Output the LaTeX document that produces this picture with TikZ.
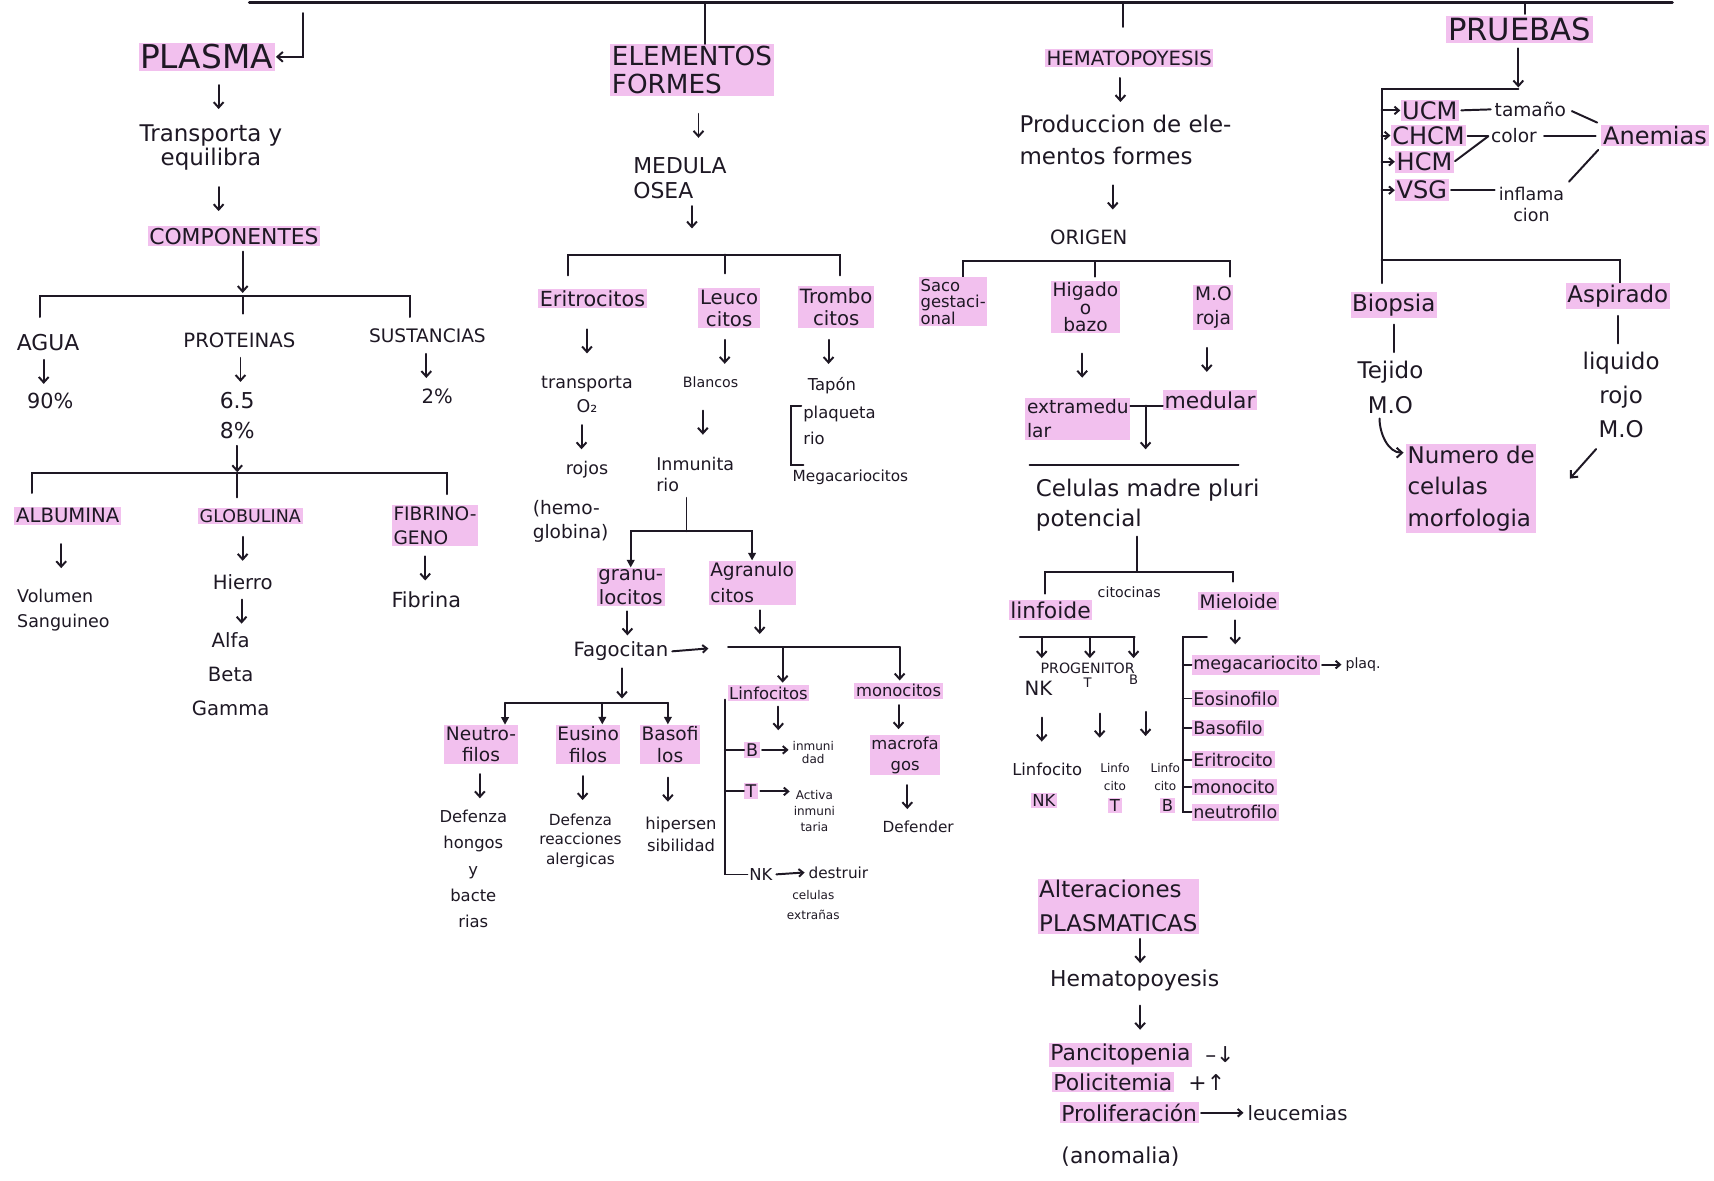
\documentclass[tikz,border=0pt]{standalone}
\usepackage{fontspec}
\setmainfont{DejaVu Sans}
\usetikzlibrary{arrows.meta,calc}
\definecolor{ink}{RGB}{30,24,36}
\definecolor{hlc}{RGB}{242,192,238}
\newcommand{\fsz}[2]{\fontsize{#1}{#2}\selectfont}
\tikzset{
 txt/.style={inner sep=1.5pt, text=ink, align=center},
 hl/.style={txt, fill=hlc},
 ln/.style={draw=ink, line width=1.8pt, line cap=round},
 arr/.style={ln, -{Straight Barb[length=5pt,width=9pt]}, shorten <=5pt, shorten >=5pt},
 smallarr/.style={ln, -{Straight Barb[length=4pt,width=7pt]}, shorten <=2pt, shorten >=2pt},
 farr/.style={ln, -{Triangle[length=7pt,width=7pt]}},
}
\newcommand{\varr}[3]{\coordinate (vtmp) at (#3,0);
 \coordinate (va) at (#1.south -| vtmp); \coordinate (vb) at (#2.north -| vtmp);
 \coordinate (vm) at ($(va)!0.5!(vb)$);
 \draw[arr, shorten <=0pt, shorten >=0pt] let \p1=(va), \p2=(vb), \n1={min(11pt,(\y1-\y2)/2-3pt)} in ([yshift=\n1]vm) -- ([yshift=-\n1]vm);}
\begin{document}
\begin{tikzpicture}[x=1pt,y=-1pt]
\fill[white] (0,0) rectangle (1568,1080);
\useasboundingbox (0,0) rectangle (1568,1080);

% ===== column 1 : PLASMA =====
\node[hl, font=\fsz{30}{32}] (plasma) at (189,52) {PLASMA};
\node[txt, font=\fsz{21}{22}] (trans) at (193,135) {Transporta y\\equilibra};
\node[hl, font=\fsz{20}{22}] (comp) at (214,216) {COMPONENTES};
\varr{plasma}{trans}{200}
\varr{trans}{comp}{200}
\coordinate (b1) at (222,271);
\draw[arr, shorten >=3pt] (comp.south -| b1) -- (b1);
\draw[ln] (37,290) -- (37,271) -- (375,271) -- (375,290);
\draw[ln] (b1) -- (222,287);
\node[txt, font=\fsz{20}{22}] (agua) at (44,313) {AGUA};
\node[txt, font=\fsz{18}{20}] (prot) at (219,311) {PROTEINAS};
\node[txt, font=\fsz{17}{20}] (sust) at (391,307) {SUSTANCIAS};
\node[txt, font=\fsz{19}{20}] (p90) at (46,367) {90\%};
\node[txt, font=\fsz{20}{27}] (p65) at (217,380) {6.5\\8\%};
\node[txt, font=\fsz{18}{20}] (p2) at (400,363) {2\%};
\varr{agua}{p90}{40}
\varr{prot}{p65}{220}
\varr{sust}{p2}{390}
\coordinate (b2) at (217,433);
\draw[arr, shorten >=1pt] (p65.south -| b2) -- (b2);
\draw[ln] (29,451) -- (29,433) -- (409,433) -- (409,452);
\draw[ln] (b2) -- (217,455);
\node[hl, font=\fsz{18}{20}] (alb) at (62,472) {ALBUMINA};
\node[hl, font=\fsz{16}{20}] (glob) at (229,472) {GLOBULINA};
\node[hl, font=\fsz{17}{22}, align=left] (fib) at (398,481) {FIBRINO-\\GENO};
\node[txt, font=\fsz{16}{23}, align=left] (vol) at (58,558) {Volumen\\Sanguineo};
\node[txt, font=\fsz{18}{20}] (hier) at (222,533) {Hierro};
\node[txt, font=\fsz{18}{31}] (abg) at (211,617) {Alfa\\Beta\\Gamma};
\node[txt, font=\fsz{19}{20}] (fibr) at (390,549) {Fibrina};
\varr{alb}{vol}{56}
\varr{glob}{hier}{222}
\varr{hier}{abg}{221}
\varr{fib}{fibr}{389}

% ===== top bar =====
\coordinate (tbL) at (228,2);
\coordinate (tbR) at (1530,2);
\draw[ln, line width=2.4pt] (tbL) -- (tbR);
\coordinate (s1) at (277,12);
\draw[arr, shorten <=0pt, shorten >=1pt] (s1) |- (plasma.east);

% ===== column 2 : ELEMENTOS FORMES =====
\node[hl, font=\fsz{24}{26}, align=left] (elem) at (633,64) {ELEMENTOS\\FORMES};
\coordinate (s2) at (645,2);
\draw[ln] (s2) -- (s2 |- elem.north);
\node[txt, font=\fsz{20}{23}, align=left] (med) at (622,163) {MEDULA\\OSEA};
\varr{elem}{med}{639}
\coordinate (m3) at (633,233);
\draw[arr, shorten >=24pt] (med.south -| m3) -- (m3);
\draw[ln] (520,252) -- (520,233) -- (768,233) -- (768,252);
\draw[ln] (663,233) -- (663,250);
\node[hl, font=\fsz{19}{20}] (eri) at (542,273) {Eritrocitos};
\node[hl, font=\fsz{18}{20}] (leu) at (667,282) {Leuco\\citos};
\node[hl, font=\fsz{18}{21}] (tro) at (765,281) {Trombo\\citos};
\node[txt, font=\fsz{16}{22}] (trO) at (537,361) {transporta\\O₂};
\node[txt, font=\fsz{16}{20}] (roj) at (537,430) {rojos};
\node[txt, font=\fsz{17}{22}, align=left] (hem) at (522,477) {(hemo-\\globina)};
\varr{eri}{trO}{537}
\varr{trO}{roj}{532}
\node[txt, font=\fsz{13}{15}] (bla) at (650,350) {Blancos};
\node[txt, font=\fsz{16}{19}, align=left] (inm) at (636,434) {Inmunita\\rio};
\varr{leu}{bla}{663}
\varr{bla}{inm}{643}
\node[hl, font=\fsz{18}{22}] (gra) at (577,537) {granu-\\locitos};
\node[hl, font=\fsz{17}{24}, align=left] (agr) at (688,533) {Agranulo\\citos};
\coordinate (sp1) at (628,486);
\draw[ln, shorten <=4pt] (inm.south -| sp1) -- (sp1);
\draw[farr] (sp1) -| (gra.north);
\draw[farr] (sp1) -| (agr.north);
\node[txt, font=\fsz{18}{20}] (fag) at (568,596) {Fagocitan};
\varr{gra}{fag}{574}
\coordinate (fagE) at (650,593);
\draw[smallarr] (fag.east) -- (fagE);
\coordinate (b4) at (695,592);
\draw[arr, shorten >=12pt] (agr.south -| b4) -- (b4);
\draw[ln] (666,592) -- (823,592);
\node[hl, font=\fsz{15}{18}] (linf) at (703,634) {Linfocitos};
\node[hl, font=\fsz{15}{18}] (mono) at (822,632) {monocitos};
\coordinate (b4a) at (716,592);
\coordinate (b4b) at (823,592);
\draw[arr, shorten <=0pt, shorten >=2pt] (b4a) -- (b4a |- linf.north);
\draw[arr, shorten <=0pt, shorten >=2pt] (b4b) -- (b4b |- mono.north);
\coordinate (b5) at (569,643);
\draw[arr, shorten >=4pt] (fag.south -| b5) -- (b5);
\node[hl, font=\fsz{17}{20}] (neu) at (440,681) {Neutro-\\filos};
\node[hl, font=\fsz{17}{20}] (eus) at (538,681) {Eusino\\filos};
\node[hl, font=\fsz{17}{20}] (bas) at (613,681) {Basofi\\los};
\coordinate (b5l) at (462,643);
\coordinate (b5m) at (551,643);
\coordinate (b5r) at (611,643);
\draw[ln] (b5l) -- (b5r);
\draw[farr] (b5l) -- (b5l |- neu.north);
\draw[farr] (b5m) -- (b5m |- eus.north);
\draw[farr] (b5r) -- (b5r |- bas.north);
\node[txt, font=\fsz{15}{24}] (def1) at (433,795) {Defenza\\hongos\\y\\bacte\\rias};
\node[txt, font=\fsz{14}{18}] (def2) at (531,769) {Defenza\\reacciones\\alergicas};
\node[txt, font=\fsz{15}{20}] (hip) at (623,763) {hipersen\\sibilidad};
\varr{neu}{def1}{439}
\varr{eus}{def2}{533}
\varr{bas}{hip}{611}
% linfocitos
\coordinate (lf) at (712,668);
\draw[arr, shorten >=0pt] (linf.south -| lf) -- (lf);
\node[hl, font=\fsz{16}{18}] (nb) at (688,686) {B};
\node[txt, font=\fsz{11}{12}] (inmd) at (744,688) {inmuni\\dad};
\node[hl, font=\fsz{16}{18}] (nt) at (687,724) {T};
\node[txt, font=\fsz{11}{15}] (act) at (745,742) {Activa\\inmuni\\taria};
\node[txt, font=\fsz{15}{18}] (nnk) at (696,800) {NK};
\node[txt, font=\fsz{14}{16}] (des) at (767,798) {destruir};
\node[txt, font=\fsz{11}{19}] (cel) at (744,828) {celulas\\extrañas};
\coordinate (lv1) at (663,640);
\coordinate (lv2) at (663,800);
\draw[ln] (lv1) -- (lv2) -- (nnk.west);
\draw[ln] (nb.west -| lv1) -- (nb.west);
\draw[ln] (nt.west -| lv1) -- (nt.west);
\draw[smallarr] (nb.east) -- (nb.east -| inmd.west);
\draw[smallarr] (nt.east) -- (nt.east -| act.west);
\draw[smallarr] (nnk.east) -- (des.west);
% monocitos
\node[hl, font=\fsz{15}{19}] (mac) at (828,691) {macrofa\\gos};
\node[txt, font=\fsz{14}{16}] (dfd) at (840,756) {Defender};
\varr{mono}{mac}{822}
\varr{mac}{dfd}{830}
% trombocitos
\node[txt, font=\fsz{15}{17}] (tap) at (761,353) {Tapón};
\varr{tro}{tap}{758}
\node[txt, font=\fsz{15}{24}, align=left] (plq) at (768,389) {plaqueta\\rio};
\node[txt, font=\fsz{14}{16}] (meg) at (778,437) {Megacariocitos};
\draw[ln] (733,371) -- (724,371) -- (724,425) -- (735,425);

% ===== column 3 : HEMATOPOYESIS =====
\node[hl, font=\fsz{18}{20}] (hemato) at (1033,53) {HEMATOPOYESIS};
\coordinate (s3) at (1027,4);
\draw[ln, shorten >=20pt] (s3) -- (s3 |- hemato.north);
\node[txt, font=\fsz{21}{30}, align=left, anchor=west] (prod) at (931,128) {Produccion de ele-\\mentos formes};
\varr{hemato}{prod}{1025}
\node[txt, font=\fsz{18}{20}] (ori) at (996,217) {ORIGEN};
\varr{prod}{ori}{1018}
\draw[ln] (881,253) -- (881,239) -- (1125,239) -- (1125,253);
\draw[ln] (1002,239) -- (1002,253);
\node[hl, font=\fsz{15}{15}, align=left] (saco) at (872,276) {Saco\\gestaci-\\onal};
\node[hl, font=\fsz{17}{16}] (hig) at (993,281) {Higado\\o\\bazo};
\node[hl, font=\fsz{17}{22}] (mo) at (1110,281) {M.O\\roja};
\node[hl, font=\fsz{17}{22}, align=left] (ext) at (986,383) {extramedu\\lar};
\node[hl, font=\fsz{20}{22}] (medu) at (1107,366) {medular};
\varr{hig}{ext}{990}
\varr{mo}{medu}{1104}
\coordinate (tj) at (1048,371);
\draw[ln] (ext.north east |- tj) -- (medu.west |- tj);
\draw[ln] (942,425) -- (1133,425);
\coordinate (rule) at (1048,425);
\draw[arr, shorten <=0pt, shorten >=14pt] (tj) -- (rule);
\node[txt, font=\fsz{21}{28}, align=left, anchor=west] (cel2) at (946,462) {Celulas madre pluri\\potencial};
\coordinate (b6) at (1040,523);
\draw[ln, shorten <=3pt] (cel2.south -| b6) -- (b6);
\draw[ln] (956,543) -- (956,523) -- (1128,523) -- (1128,532);
\node[txt, font=\fsz{13}{15}] (cit) at (1033,542) {citocinas};
\node[hl, font=\fsz{20}{22}] (linfd) at (961,558) {linfoide};
\node[hl, font=\fsz{17}{20}] (miel) at (1133,550) {Mieloide};
\draw[ln] (933,583) -- (1038,583);
\draw[arr, shorten <=0pt, shorten >=0pt] (953,583) -- (953,602);
\draw[arr, shorten <=0pt, shorten >=0pt] (997,583) -- (997,602);
\draw[arr, shorten <=0pt, shorten >=0pt] (1037,583) -- (1037,602);
\node[txt, font=\fsz{13}{14}] (prog) at (995,611) {PROGENITOR};
\node[txt, font=\fsz{18}{20}] (pnk) at (950,630) {NK};
\node[txt, font=\fsz{12}{14}] (pt) at (995,625) {T};
\node[txt, font=\fsz{12}{14}] (pb) at (1037,622) {B};
\node[txt, font=\fsz{15}{17}] (lnk) at (958,704) {Linfocito};
\node[hl, font=\fsz{15}{17}] (lnk2) at (955,732) {NK};
\node[txt, font=\fsz{11}{17}] (lt) at (1020,711) {Linfo\\cito};
\node[hl, font=\fsz{15}{17}] (lt2) at (1020,737) {T};
\node[txt, font=\fsz{11}{17}] (lb) at (1066,711) {Linfo\\cito};
\node[hl, font=\fsz{15}{17}] (lb2) at (1068,737) {B};
\varr{pnk}{lnk}{953}
\varr{pt}{lt}{1006}
\varr{pb}{lb}{1048}
% mieloide
\node[hl, font=\fsz{16}{18}, anchor=west] (mega) at (1090,608) {megacariocito};
\node[txt, font=\fsz{13}{15}] (plaq) at (1247,608) {plaq.};
\node[hl, font=\fsz{16}{18}, anchor=west] (eos) at (1090,639) {Eosinofilo};
\node[hl, font=\fsz{16}{18}, anchor=west] (baso) at (1090,666) {Basofilo};
\node[hl, font=\fsz{16}{18}, anchor=west] (erit2) at (1090,695) {Eritrocito};
\node[hl, font=\fsz{16}{18}, anchor=west] (mono2) at (1090,720) {monocito};
\node[hl, font=\fsz{16}{18}, anchor=west] (neut) at (1090,743) {neutrofilo};
\varr{miel}{mega}{1130}
\draw[smallarr] (mega.east) -- (plaq.west);
\coordinate (mv) at (1082,583);
\draw[ln] (1104,583) -- (mv) -- (mv |- neut.west) -- (neut.west);
\draw[ln] (mega.west -| mv) -- (mega.west);
\draw[ln] (eos.west -| mv) -- (eos.west);
\draw[ln] (baso.west -| mv) -- (baso.west);
\draw[ln] (erit2.west -| mv) -- (erit2.west);
\draw[ln] (mono2.west -| mv) -- (mono2.west);

% alteraciones
\node[hl, font=\fsz{21}{31}, align=left, anchor=west] (alt) at (949,829) {Alteraciones\\PLASMATICAS};
\node[txt, font=\fsz{20}{22}] (hp) at (1038,897) {Hematopoyesis};
\varr{alt}{hp}{1043}
\node[hl, font=\fsz{20}{22}] (pan) at (1025,965) {Pancitopenia};
\varr{hp}{pan}{1043}
\node[txt, font=\fsz{20}{22}] (panx) at (1116,965) {–↓};
\node[hl, font=\fsz{20}{22}] (pol) at (1018,990) {Policitemia};
\node[txt, font=\fsz{20}{22}] (polx) at (1104,990) {+↑};
\node[hl, font=\fsz{20}{22}] (pro) at (1033,1018) {Proliferación};
\node[txt, font=\fsz{18}{20}] (leuc) at (1187,1018) {leucemias};
\draw[smallarr] (pro.east) -- (leuc.west);
\node[txt, font=\fsz{20}{22}] (ano) at (1025,1058) {(anomalia)};

% ===== column 4 : PRUEBAS =====
\node[hl, font=\fsz{28}{30}] (prue) at (1390,27) {PRUEBAS};
\coordinate (s4) at (1395,2);
\draw[ln, shorten >=2pt] (s4) -- (s4 |- prue.north);
\coordinate (pj) at (1389,81);
\coordinate (pl) at (1264,81);
\coordinate (pbot) at (1264,259);
\draw[arr, shorten >=1pt] (prue.south -| pj) -- (pj);
\draw[ln] (pj) -- (pl) -- (pbot);
\draw[ln] (1264,238) -- (1482,238) -- (1482,259);
\node[hl, font=\fsz{22}{24}, anchor=west] (ucm) at (1281,101) {UCM};
\node[hl, font=\fsz{22}{24}, anchor=west] (chcm) at (1272,124) {CHCM};
\node[hl, font=\fsz{22}{24}, anchor=west] (hcm) at (1276,148) {HCM};
\node[hl, font=\fsz{22}{24}, anchor=west] (vsg) at (1276,174) {VSG};
\draw[smallarr, shorten <=0pt, shorten >=0pt] (ucm.west -| pl) -- (ucm.west);
\draw[smallarr, shorten <=0pt, shorten >=0pt] (chcm.west -| pl) -- (chcm.west);
\draw[smallarr, shorten <=0pt, shorten >=0pt] (hcm.west -| pl) -- (hcm.west);
\draw[smallarr, shorten <=0pt, shorten >=0pt] (vsg.west -| pl) -- (vsg.west);
\node[txt, font=\fsz{17}{18}] (tam) at (1400,100) {tamaño};
\node[txt, font=\fsz{17}{18}] (col) at (1385,124) {color};
\node[hl, font=\fsz{22}{24}] (anem) at (1514,124) {Anemias};
\node[txt, font=\fsz{16}{20}] (infl) at (1401,187) {inflama\\cion};
\draw[ln, shorten <=2pt, shorten >=2pt] (ucm.east) -- (tam.west);
\draw[ln, shorten <=1pt, shorten >=1pt] (chcm.east) -- (col.west);
\draw[ln, shorten <=1pt, shorten >=1pt] (hcm.east) -- (col.west);
\draw[ln, shorten <=5pt, shorten >=5pt] (col.east) -- (anem.west);
\draw[ln, shorten <=4pt, shorten >=4pt] (tam.east) -- (anem.north west);
\draw[ln, shorten <=2pt, shorten >=2pt] (vsg.east) -- (vsg.east -| infl.west);
\draw[ln, shorten <=4pt, shorten >=4pt] (infl.north east) -- (anem.south west);
\node[hl, font=\fsz{21}{23}] (bio) at (1275,279) {Biopsia};
\node[hl, font=\fsz{21}{23}] (asp) at (1480,271) {Aspirado};
\node[txt, font=\fsz{21}{32}] (tej) at (1272,354) {Tejido\\M.O};
\node[txt, font=\fsz{21}{31}] (liq) at (1483,361) {liquido\\rojo\\M.O};
\draw[ln, shorten <=6pt, shorten >=6pt] (bio.south) -- (bio.south |- tej.north);
\draw[ln, shorten <=6pt, shorten >=6pt] (asp.south) -- (asp.south |- liq.north);
\node[hl, font=\fsz{21}{29}, align=left, anchor=west] (num) at (1286,447) {Numero de\\celulas\\morfologia};
\draw[arr, shorten <=3pt, shorten >=2pt] ([xshift=-10pt]tej.south) to[out=-90,in=180] ([yshift=-8pt]num.north west);
\draw[arr, shorten <=0pt, shorten >=0pt] ([shift={(14pt,-9pt)}]liq.south west) -- ++(-24,27);
\end{tikzpicture}
\end{document}
